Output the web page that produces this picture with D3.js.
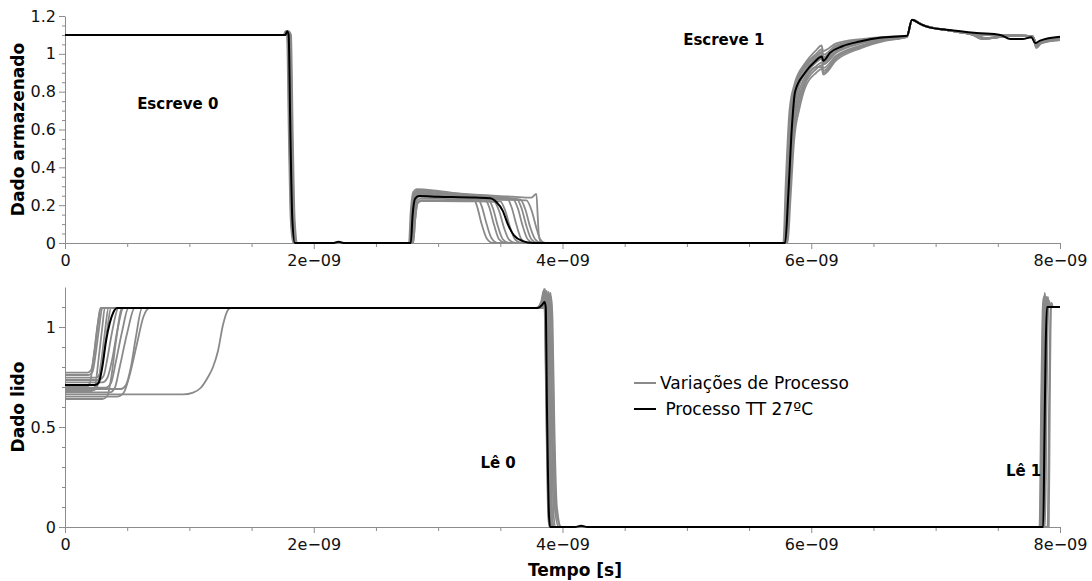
<!DOCTYPE html>
<html>
<head>
<meta charset="utf-8">
<script src="https://cdn.jsdelivr.net/npm/d3@7"></script>
<style>
  html, body { margin: 0; padding: 0; background: #fff; }
  svg { display: block; font-family: "DejaVu Sans", sans-serif; }
  .axis path, .axis line { stroke: #8c8c8c; }
  .axis text { fill: #111; font-size: 16px; font-family: "DejaVu Sans", sans-serif; }
  .title { font-weight: bold; font-size: 17px; fill: #000; }
  .note { font-weight: bold; font-size: 15px; fill: #000; }
  .legend { font-size: 17px; fill: #000; }
</style>
</head>
<body>
<svg id="chart" width="1092" height="581"></svg>
<script>
// Time in nanoseconds (axis shows it in seconds, e.g. 2e−09), voltage in V.
const xTicks = [0, 2, 4, 6, 8];
const xMinorTicks = [0.5, 1, 1.5, 2.5, 3, 3.5, 4.5, 5, 5.5, 6.5, 7, 7.5];
const storedTicks = [0, 0.2, 0.4, 0.6, 0.8, 1, 1.2];
const storedMinorTicks = [0.05, 0.1, 0.15, 0.25, 0.3, 0.35, 0.45, 0.5, 0.55, 0.65, 0.7, 0.75, 0.85, 0.9, 0.95, 1.05, 1.1, 1.15];
const readTicks = [0, 0.5, 1];
const readMinorTicks = [0.1, 0.2, 0.3, 0.4, 0.6, 0.7, 0.8, 0.9, 1.1];

// Stored node: nominal corner (TT, 27 ºC)
const storedNominal = [
  [0,1.1],[1.772,1.1],[1.786,1.12],[1.798,1.1],[1.813,0.55],[1.828,0.12],[1.848,0],
  [2.15,0],[2.2,0.006],[2.25,0],
  [2.78,0],[2.795,0.15],[2.815,0.235],[2.845,0.248],[3.0,0.245],[3.3,0.24],[3.42,0.236],[3.47,0.215],[3.52,0.17],[3.56,0.1],[3.61,0.04],[3.68,0.01],[3.76,0],
  [5.79,0],[5.815,0.25],[5.845,0.62],[5.87,0.8],[5.95,0.9],[6.03,0.96],[6.085,0.986],[6.097,0.963],[6.15,1.005],[6.25,1.04],[6.39,1.065],[6.55,1.085],[6.77,1.095],
  [6.81,1.18],[6.87,1.16],[6.95,1.14],[7.09,1.127],[7.33,1.11],[7.52,1.1],[7.6,1.078],[7.7,1.078],[7.77,1.088],[7.80,1.057],[7.84,1.07],[8.0,1.09]
];

// Stored node: process variations
const storedVariations = [
  [[0,1.1],[1.758,1.1],[1.773,1.12],[1.785,1.1],[1.80,0.55],[1.815,0.12],[1.835,0],
   [2.765,0],[2.78,0.17],[2.80,0.27],[2.83,0.285],[3.0,0.275],[3.15,0.262],[3.27,0.25],[3.31,0.2],[3.35,0.1],[3.39,0.025],[3.44,0],
   [5.775,0],[5.795,0.32],[5.825,0.7],[5.865,0.84],[5.95,0.95],[6.04,1.02],[6.083,1.045],[6.095,1.015],[6.2,1.055],[6.4,1.078],[6.6,1.09],[6.77,1.095],
   [6.81,1.18],[6.9,1.152],[7.1,1.125],[7.3,1.1],[7.37,1.078],[7.45,1.083],[7.6,1.095],[7.78,1.092],[7.81,1.04],[7.85,1.06],[8.0,1.072]],
  [[0,1.1],[1.765,1.1],[1.78,1.118],[1.792,1.1],[1.807,0.55],[1.822,0.12],[1.842,0],
   [2.77,0],[2.785,0.16],[2.805,0.26],[2.835,0.275],[3.0,0.268],[3.2,0.255],[3.31,0.245],[3.35,0.195],[3.39,0.1],[3.43,0.025],[3.48,0],
   [5.78,0],[5.80,0.3],[5.83,0.68],[5.87,0.83],[5.95,0.94],[6.04,1.0],[6.085,1.025],[6.097,0.995],[6.2,1.045],[6.4,1.073],[6.6,1.088],[6.77,1.094],
   [6.81,1.18],[6.9,1.15],[7.1,1.124],[7.3,1.105],[7.4,1.082],[7.48,1.088],[7.65,1.098],[7.78,1.09],[7.81,1.05],[7.85,1.065],[8.0,1.08]],
  [[0,1.1],[1.77,1.1],[1.785,1.115],[1.797,1.1],[1.812,0.55],[1.827,0.12],[1.847,0],
   [2.775,0],[2.79,0.16],[2.81,0.255],[2.84,0.27],[3.0,0.262],[3.25,0.25],[3.37,0.24],[3.41,0.19],[3.45,0.095],[3.49,0.02],[3.54,0],
   [5.785,0],[5.805,0.29],[5.835,0.66],[5.875,0.82],[5.95,0.925],[6.04,0.985],[6.085,1.005],[6.097,0.975],[6.2,1.035],[6.4,1.07],[6.6,1.087],[6.77,1.094],
   [6.81,1.18],[6.9,1.152],[7.1,1.125],[7.3,1.102],[7.36,1.08],[7.44,1.085],[7.6,1.095],[7.78,1.09],[7.81,1.045],[7.85,1.062],[8.0,1.078]],
  [[0,1.1],[1.775,1.1],[1.79,1.118],[1.802,1.1],[1.817,0.55],[1.832,0.12],[1.852,0],
   [2.78,0],[2.795,0.15],[2.815,0.25],[2.845,0.265],[3.0,0.258],[3.25,0.245],[3.40,0.235],[3.44,0.185],[3.48,0.09],[3.52,0.02],[3.57,0],
   [5.79,0],[5.81,0.28],[5.84,0.64],[5.88,0.8],[5.95,0.91],[6.04,0.975],[6.085,0.995],[6.097,0.965],[6.2,1.025],[6.4,1.065],[6.6,1.085],[6.77,1.093],
   [6.81,1.18],[6.9,1.15],[7.1,1.124],[7.3,1.104],[7.5,1.098],[7.65,1.097],[7.78,1.092],[7.81,1.052],[7.85,1.066],[8.0,1.082]],
  [[0,1.1],[1.78,1.1],[1.795,1.115],[1.807,1.1],[1.822,0.55],[1.837,0.12],[1.857,0],
   [2.785,0],[2.80,0.15],[2.82,0.245],[2.85,0.26],[3.0,0.255],[3.3,0.245],[3.55,0.24],[3.59,0.19],[3.63,0.095],[3.67,0.02],[3.72,0],
   [5.795,0],[5.815,0.27],[5.845,0.62],[5.885,0.79],[5.95,0.9],[6.04,0.965],[6.085,0.985],[6.097,0.955],[6.2,1.015],[6.4,1.06],[6.6,1.083],[6.77,1.093],
   [6.81,1.18],[6.9,1.15],[7.1,1.125],[7.3,1.103],[7.42,1.083],[7.5,1.088],[7.65,1.097],[7.78,1.09],[7.81,1.048],[7.85,1.063],[8.0,1.08]],
  [[0,1.1],[1.785,1.1],[1.80,1.118],[1.812,1.1],[1.827,0.55],[1.842,0.12],[1.862,0],
   [2.79,0],[2.805,0.14],[2.825,0.24],[2.855,0.255],[3.0,0.25],[3.3,0.243],[3.60,0.235],[3.64,0.185],[3.68,0.09],[3.72,0.02],[3.77,0],
   [5.80,0],[5.82,0.26],[5.85,0.6],[5.89,0.77],[5.95,0.88],[6.04,0.955],[6.085,0.975],[6.097,0.945],[6.2,1.005],[6.4,1.055],[6.6,1.08],[6.77,1.092],
   [6.81,1.18],[6.9,1.15],[7.1,1.124],[7.3,1.104],[7.5,1.098],[7.65,1.097],[7.78,1.092],[7.81,1.055],[7.85,1.068],[8.0,1.085]],
  [[0,1.1],[1.79,1.1],[1.805,1.115],[1.817,1.1],[1.832,0.55],[1.847,0.12],[1.87,0],
   [2.79,0],[2.81,0.14],[2.83,0.235],[2.86,0.25],[3.0,0.248],[3.3,0.242],[3.63,0.235],[3.67,0.185],[3.71,0.09],[3.75,0.02],[3.80,0],
   [5.80,0],[5.822,0.25],[5.852,0.58],[5.895,0.75],[5.95,0.86],[6.04,0.935],[6.085,0.955],[6.097,0.925],[6.2,0.99],[6.4,1.045],[6.6,1.077],[6.77,1.091],
   [6.81,1.18],[6.9,1.15],[7.1,1.125],[7.3,1.1],[7.4,1.079],[7.47,1.085],[7.6,1.095],[7.78,1.09],[7.81,1.035],[7.85,1.058],[8.0,1.075]],
  [[0,1.1],[1.773,1.1],[1.788,1.12],[1.80,1.1],[1.815,0.55],[1.83,0.12],[1.85,0],
   [2.78,0],[2.795,0.14],[2.815,0.232],[2.845,0.245],[3.0,0.242],[3.3,0.237],[3.66,0.23],[3.70,0.18],[3.74,0.085],[3.78,0.02],[3.83,0],
   [5.805,0],[5.827,0.24],[5.857,0.56],[5.90,0.73],[5.95,0.84],[6.04,0.92],[6.085,0.94],[6.097,0.91],[6.2,0.98],[6.4,1.04],[6.6,1.075],[6.77,1.09],
   [6.81,1.18],[6.9,1.15],[7.1,1.124],[7.3,1.104],[7.5,1.098],[7.65,1.097],[7.78,1.092],[7.81,1.055],[7.85,1.068],[8.0,1.082]],
  [[0,1.1],[1.762,1.1],[1.777,1.118],[1.789,1.1],[1.804,0.55],[1.819,0.12],[1.839,0],
   [2.795,0],[2.81,0.13],[2.83,0.222],[2.86,0.235],[3.0,0.233],[3.3,0.23],[3.71,0.225],[3.75,0.175],[3.79,0.08],[3.82,0.02],[3.86,0],
   [5.81,0],[5.832,0.22],[5.862,0.54],[5.905,0.71],[5.95,0.82],[6.04,0.9],[6.085,0.92],[6.097,0.89],[6.2,0.965],[6.4,1.03],[6.6,1.07],[6.77,1.09],
   [6.81,1.18],[6.9,1.15],[7.1,1.125],[7.3,1.102],[7.42,1.08],[7.5,1.087],[7.65,1.097],[7.78,1.09],[7.81,1.04],[7.85,1.06],[8.0,1.078]],
  [[0,1.1],[1.778,1.1],[1.793,1.12],[1.805,1.1],[1.82,0.55],[1.835,0.12],[1.855,0],
   [2.80,0],[2.815,0.12],[2.835,0.212],[2.865,0.225],[3.0,0.224],[3.3,0.222],[3.50,0.22],[3.54,0.17],[3.58,0.08],[3.62,0.018],[3.67,0],
   [5.785,0],[5.805,0.3],[5.835,0.67],[5.875,0.83],[5.95,0.93],[6.04,0.99],[6.085,1.012],[6.097,0.982],[6.2,1.04],[6.4,1.072],[6.6,1.087],[6.77,1.094],
   [6.81,1.18],[6.9,1.15],[7.1,1.124],[7.3,1.104],[7.5,1.098],[7.65,1.097],[7.78,1.092],[7.81,1.05],[7.85,1.065],[8.0,1.08]],
  [[0,1.1],[1.782,1.1],[1.797,1.118],[1.809,1.1],[1.824,0.55],[1.839,0.12],[1.859,0],
   [2.775,0],[2.79,0.17],[2.81,0.265],[2.84,0.28],[3.0,0.27],[3.3,0.255],[3.6,0.245],[3.75,0.24],[3.79,0.26],[3.80,0.15],[3.81,0.04],[3.83,0],
   [5.79,0],[5.812,0.27],[5.842,0.62],[5.882,0.79],[5.95,0.9],[6.04,0.96],[6.085,0.975],[6.097,0.945],[6.2,1.01],[6.4,1.058],[6.6,1.082],[6.77,1.092],
   [6.81,1.18],[6.9,1.15],[7.1,1.125],[7.3,1.1],[7.38,1.079],[7.46,1.084],[7.6,1.095],[7.78,1.09],[7.81,1.03],[7.85,1.055],[8.0,1.072]],
  [[0,1.1],[1.768,1.1],[1.783,1.118],[1.795,1.1],[1.81,0.55],[1.825,0.12],[1.845,0],
   [2.80,0],[2.815,0.12],[2.835,0.21],[2.865,0.222],[3.0,0.222],[3.3,0.22],[3.45,0.218],[3.49,0.17],[3.53,0.08],[3.57,0.018],[3.62,0],
   [5.80,0],[5.822,0.25],[5.852,0.58],[5.895,0.75],[5.95,0.86],[6.04,0.93],[6.085,0.93],[6.097,0.9],[6.2,0.975],[6.4,1.035],[6.6,1.072],[6.77,1.09],
   [6.81,1.18],[6.9,1.15],[7.1,1.124],[7.3,1.104],[7.5,1.098],[7.65,1.097],[7.78,1.092],[7.81,1.055],[7.85,1.068],[8.0,1.085]]
];

// Read output: nominal corner (TT, 27 ºC)
const readNominal = [
  [0,0.71],[0.24,0.71],[0.27,0.72],[0.30,0.8],[0.33,0.93],[0.36,1.02],[0.39,1.075],[0.42,1.095],
  [3.80,1.095],[3.835,1.11],[3.855,1.125],[3.865,1.1],[3.875,0.6],[3.89,0.08],[3.90,0],
  [4.1,0],[4.15,0.006],[4.2,0],
  [7.865,0],[7.875,0.45],[7.885,0.9],[7.895,1.1],[8.0,1.1]
];

// Read output: process variations
const readVariations = [
  [[0,0.772],[0.18,0.772],[0.21,0.785],[0.24,0.89],[0.265,1.02],[0.285,1.095],[3.79,1.095],[3.83,1.13],[3.848,1.18],[3.858,1.06],[3.87,0.55],[3.885,0.06],[3.895,0],[7.835,0],[7.848,0.6],[7.86,1.08],[7.868,1.15],[7.88,1.1],[8.0,1.1]],
  [[0,0.76],[0.19,0.76],[0.22,0.775],[0.25,0.88],[0.275,1.0],[0.30,1.095],[3.80,1.095],[3.84,1.13],[3.86,1.19],[3.87,1.06],[3.882,0.55],[3.897,0.06],[3.907,0],[7.845,0],[7.858,0.6],[7.87,1.08],[7.878,1.16],[7.89,1.1],[8.0,1.1]],
  [[0,0.747],[0.25,0.747],[0.28,0.765],[0.31,0.86],[0.34,0.99],[0.37,1.095],[3.80,1.095],[3.845,1.12],[3.865,1.17],[3.875,1.05],[3.888,0.5],[3.903,0.05],[3.913,0],[7.85,0],[7.862,0.6],[7.874,1.08],[7.882,1.14],[7.894,1.1],[8.0,1.1]],
  [[0,0.735],[0.27,0.735],[0.31,0.755],[0.34,0.84],[0.38,0.98],[0.43,1.095],[3.81,1.095],[3.855,1.14],[3.875,1.18],[3.885,1.05],[3.898,0.5],[3.913,0.05],[3.925,0],[7.855,0],[7.868,0.6],[7.88,1.08],[7.888,1.15],[7.9,1.1],[8.0,1.1]],
  [[0,0.723],[0.30,0.723],[0.34,0.745],[0.38,0.84],[0.42,0.98],[0.47,1.095],[3.82,1.095],[3.87,1.13],[3.89,1.175],[3.90,1.04],[3.913,0.5],[3.93,0.05],[3.945,0],[7.87,0],[7.882,0.6],[7.894,1.08],[7.902,1.15],[7.914,1.1],[8.0,1.1]],
  [[0,0.70],[0.17,0.70],[0.20,0.72],[0.23,0.85],[0.26,1.0],[0.29,1.095],[3.79,1.095],[3.83,1.12],[3.85,1.16],[3.86,1.04],[3.873,0.5],[3.888,0.05],[3.898,0],[7.84,0],[7.852,0.6],[7.864,1.08],[7.872,1.14],[7.884,1.1],[8.0,1.1]],
  [[0,0.697],[0.33,0.697],[0.37,0.72],[0.41,0.83],[0.46,0.98],[0.51,1.095],[3.82,1.095],[3.87,1.12],[3.895,1.16],[3.905,1.04],[3.92,0.5],[3.94,0.08],[3.97,0],[7.88,0],[7.892,0.6],[7.904,1.08],[7.912,1.13],[7.924,1.1],[8.0,1.1]],
  [[0,0.685],[0.23,0.685],[0.26,0.705],[0.29,0.82],[0.32,0.97],[0.35,1.095],[3.80,1.095],[3.84,1.12],[3.858,1.17],[3.868,1.05],[3.88,0.5],[3.895,0.05],[3.905,0],[7.86,0],[7.872,0.6],[7.884,1.08],[7.892,1.15],[7.904,1.1],[8.0,1.1]],
  [[0,0.673],[0.36,0.673],[0.40,0.695],[0.44,0.8],[0.50,0.97],[0.56,1.095],[3.83,1.095],[3.88,1.13],[3.905,1.17],[3.915,1.04],[3.93,0.5],[3.95,0.08],[3.985,0],[7.9,0],[7.912,0.6],[7.924,1.08],[7.93,1.12],[7.94,1.1],[8.0,1.1]],
  [[0,0.663],[0.95,0.663],[1.03,0.672],[1.09,0.695],[1.15,0.75],[1.19,0.8],[1.23,0.88],[1.27,1.01],[1.31,1.085],[1.33,1.095],[3.81,1.095],[3.86,1.12],[3.88,1.16],[3.89,1.04],[3.903,0.5],[3.918,0.05],[3.93,0],[7.865,0],[7.877,0.6],[7.889,1.08],[7.897,1.14],[7.909,1.1],[8.0,1.1]],
  [[0,0.652],[0.42,0.652],[0.47,0.67],[0.52,0.76],[0.58,0.92],[0.63,1.05],[0.68,1.095],[3.84,1.095],[3.89,1.12],[3.91,1.15],[3.92,1.03],[3.935,0.5],[3.955,0.1],[3.99,0],[7.91,0],[7.918,0.6],[7.926,1.08],[7.932,1.12],[7.942,1.1],[8.0,1.1]],
  [[0,0.64],[0.30,0.64],[0.34,0.655],[0.37,0.74],[0.41,0.93],[0.46,1.095],[3.80,1.095],[3.845,1.13],[3.862,1.17],[3.872,1.05],[3.885,0.5],[3.9,0.05],[3.91,0],[7.85,0],[7.862,0.6],[7.874,1.08],[7.882,1.15],[7.894,1.1],[8.0,1.1]],
  [[0,0.69],[0.45,0.69],[0.49,0.71],[0.53,0.8],[0.57,0.95],[0.62,1.095],[3.81,1.095],[3.855,1.12],[3.875,1.15],[3.885,1.04],[3.898,0.5],[3.913,0.05],[3.925,0],[7.875,0],[7.887,0.6],[7.899,1.08],[7.907,1.13],[7.919,1.1],[8.0,1.1]],
  [[0,0.68],[0.21,0.68],[0.24,0.7],[0.27,0.84],[0.30,1.0],[0.32,1.095],[3.79,1.095],[3.835,1.13],[3.853,1.19],[3.863,1.05],[3.876,0.5],[3.891,0.05],[3.9,0],[7.845,0],[7.857,0.6],[7.869,1.08],[7.877,1.17],[7.889,1.1],[8.0,1.1]]
];

const legendLabels = ["Variações de Processo", " Processo TT 27ºC"];
const notes = [
  { panel: "top", text: "Escreve 0", t: 0.58, v: 0.71 },
  { panel: "top", text: "Escreve 1", t: 4.97, v: 1.045 },
  { panel: "bottom", text: "Lê 0", t: 3.34, v: 0.295 },
  { panel: "bottom", text: "Lê 1", t: 7.565, v: 0.255 }
];

const grayColor = "#8a8a8a";
const svg = d3.select("#chart");

const x = d3.scaleLinear().domain([0, 8]).range([65, 1060]);
const yTop = d3.scaleLinear().domain([0, 1.2]).range([243, 16]);
const yBot = d3.scaleLinear().domain([0, 1.2]).range([527, 287]);

const fmtX = d => d === 0 ? "0" : d + "e\u221209";
const fmtY = d => String(+d.toFixed(2));

function drawAxes(y, yMajor, yMinor, yBase) {
  svg.append("g").attr("class", "axis")
    .attr("transform", `translate(0,${yBase})`)
    .call(d3.axisBottom(x).tickValues(xMinorTicks).tickSize(4).tickFormat(""))
    .call(g => g.select(".domain").remove());
  svg.append("g").attr("class", "axis")
    .attr("transform", `translate(0,${yBase})`)
    .call(d3.axisBottom(x).tickValues(xTicks).tickSize(6).tickPadding(6).tickSizeOuter(0).tickFormat(fmtX));
  svg.append("g").attr("class", "axis")
    .attr("transform", `translate(65,0)`)
    .call(d3.axisLeft(y).tickValues(yMinor).tickSize(3).tickFormat(""))
    .call(g => g.select(".domain").remove());
  svg.append("g").attr("class", "axis")
    .attr("transform", `translate(65,0)`)
    .call(d3.axisLeft(y).tickValues(yMajor).tickSize(6).tickPadding(3).tickSizeOuter(0).tickFormat(fmtY));
}

drawAxes(yTop, storedTicks, storedMinorTicks, 243);
drawAxes(yBot, readTicks, readMinorTicks, 527);

function drawSeries(y, variations, nominal) {
  const line = d3.line().x(d => x(d[0])).y(d => y(d[1])).curve(d3.curveMonotoneX);
  const g = svg.append("g");
  g.selectAll("path.var").data(variations).join("path")
    .attr("class", "var")
    .attr("d", line)
    .attr("fill", "none")
    .attr("stroke", grayColor)
    .attr("stroke-width", 1.8)
    .attr("stroke-linejoin", "round");
  g.append("path")
    .attr("d", line(nominal))
    .attr("fill", "none")
    .attr("stroke", "#000")
    .attr("stroke-width", 2)
    .attr("stroke-linejoin", "round");
}

drawSeries(yTop, storedVariations, storedNominal);
drawSeries(yBot, readVariations, readNominal);

// Axis titles
svg.append("text").attr("class", "title")
  .attr("transform", `translate(24,${(16 + 243) / 2}) rotate(-90)`)
  .attr("text-anchor", "middle").text("Dado armazenado");
svg.append("text").attr("class", "title")
  .attr("transform", `translate(24,${(287 + 527) / 2}) rotate(-90)`)
  .attr("text-anchor", "middle").text("Dado lido");
svg.append("text").attr("class", "title")
  .attr("x", 575).attr("y", 576)
  .attr("text-anchor", "middle").text("Tempo [s]");

// Event annotations
notes.forEach(n => {
  const y = n.panel === "top" ? yTop : yBot;
  svg.append("text").attr("class", "note")
    .attr("x", x(n.t)).attr("y", y(n.v))
    .text(n.text);
});

// Legend
const legend = svg.append("g").attr("transform", "translate(634,383)");
[grayColor, "#000"].forEach((c, i) => {
  legend.append("line")
    .attr("x1", 0).attr("x2", 22).attr("y1", i * 26).attr("y2", i * 26)
    .attr("stroke", c).attr("stroke-width", 2);
  legend.append("text").attr("class", "legend")
    .attr("x", 26).attr("y", i * 26).attr("dy", "0.35em")
    .style("white-space", "pre")
    .attr("xml:space", "preserve")
    .text(legendLabels[i]);
});
</script>
</body>
</html>
